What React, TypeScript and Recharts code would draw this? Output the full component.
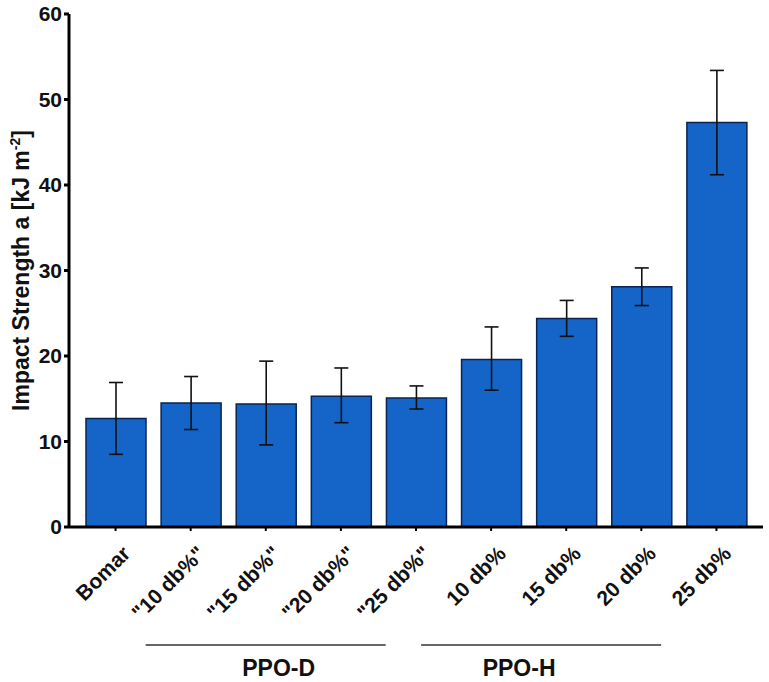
import { Bar, BarChart, ErrorBar, XAxis, YAxis } from "recharts";

const categories = [
  "Bomar",
  '"10 db%"',
  '"15 db%"',
  '"20 db%"',
  '"25 db%"',
  "10 db%",
  "15 db%",
  "20 db%",
  "25 db%",
];
const strength = [12.7, 14.5, 14.4, 15.3, 15.1, 19.6, 24.4, 28.1, 47.3];
const errMinus = [4.2, 3.1, 4.8, 3.1, 1.3, 3.6, 2.1, 2.2, 6.1];
const errPlus = [4.2, 3.1, 5.0, 3.3, 1.4, 3.8, 2.1, 2.2, 6.1];
const yTicks = [0, 10, 20, 30, 40, 50, 60];
const groups = [
  { name: "PPO-D", from: 1, to: 4 },
  { name: "PPO-H", from: 5, to: 8 },
];

// where the group rule and caption sit, relative to the group's first tick
const groupLayout = [
  { lineStart: -45, lineLength: 240, labelAt: 88 },
  { lineStart: -70, lineLength: 240, labelAt: 28 },
];

const data = categories.map((name, i) => ({
  name,
  value: strength[i],
  err: [errMinus[i], errPlus[i]],
}));

const FONT = "'Liberation Sans', Arial, sans-serif";

function CategoryTick(props: any) {
  const { x, y, payload, index } = props;
  const gi = groups.findIndex((g) => g.from === index);
  const layout = gi >= 0 ? groupLayout[gi] : null;
  const tx = x + 16;
  const ty = y + 22;
  return (
    <g>
      <text
        x={tx}
        y={ty}
        transform={`rotate(-45, ${tx}, ${ty})`}
        textAnchor="end"
        fontFamily={FONT}
        fontWeight="bold"
        fontSize={21}
        fill="#111"
      >
        {payload.value}
      </text>
      {layout && (
        <g>
          <line
            x1={x + layout.lineStart}
            x2={x + layout.lineStart + layout.lineLength}
            y1={y + 112}
            y2={y + 112}
            stroke="#333"
            strokeWidth={1.3}
          />
          <text
            x={x + layout.labelAt}
            y={y + 143}
            textAnchor="middle"
            fontFamily={FONT}
            fontWeight="bold"
            fontSize={23}
            fill="#111"
          >
            {groups[gi].name}
          </text>
        </g>
      )}
    </g>
  );
}

function YLabel(props: any) {
  const vb = props.viewBox ?? { x: 0, y: 0, width: 0, height: 0 };
  const cx = 29;
  const cy = vb.y + vb.height / 2;
  return (
    <text
      x={cx}
      y={cy}
      transform={`rotate(-90, ${cx}, ${cy})`}
      textAnchor="middle"
      fontFamily={FONT}
      fontWeight="bold"
      fontSize={23}
      fill="#111"
    >
      Impact Strength a [kJ m
      <tspan dy={-9} fontSize={14}>
        -2
      </tspan>
      <tspan dy={9}>]</tspan>
    </text>
  );
}

export default function App() {
  return (
    <div style={{ position: "absolute", left: 0, top: 0, background: "#fff" }}>
      <BarChart
        width={769}
        height={682}
        data={data}
        margin={{ top: 14, right: 6, left: 24, bottom: 95 }}
      >
        <XAxis
          dataKey="name"
          height={60}
          padding={{ left: 9, right: 9 }}
          axisLine={{ stroke: "#000", strokeWidth: 3 }}
          tickLine={{ stroke: "#000", strokeWidth: 2 }}
          tickSize={4}
          interval={0}
          tick={<CategoryTick />}
        />
        <XAxis
          xAxisId="top"
          orientation="top"
          dataKey="name"
          height={0}
          tick={false}
          tickLine={false}
          axisLine={{ stroke: "#000", strokeWidth: 3 }}
        />
        <YAxis
          domain={[0, 60]}
          ticks={yTicks}
          width={45}
          interval={0}
          axisLine={{ stroke: "#000", strokeWidth: 3 }}
          tickLine={{ stroke: "#000", strokeWidth: 3 }}
          tickSize={5}
          tick={{ fontFamily: FONT, fontWeight: "bold", fontSize: 21, fill: "#111" }}
          label={<YLabel />}
        />
        <YAxis
          yAxisId="right"
          orientation="right"
          domain={[0, 60]}
          width={0}
          tick={false}
          tickLine={false}
          axisLine={{ stroke: "#000", strokeWidth: 3 }}
        />
        <Bar
          dataKey="value"
          barSize={60}
          fill="#1565c8"
          stroke="#0b2350"
          strokeWidth={1.5}
          isAnimationActive={false}
        >
          <ErrorBar
            dataKey="err"
            width={7}
            stroke="#111"
            strokeWidth={1.6}
            isAnimationActive={false}
          />
        </Bar>
      </BarChart>
    </div>
  );
}
